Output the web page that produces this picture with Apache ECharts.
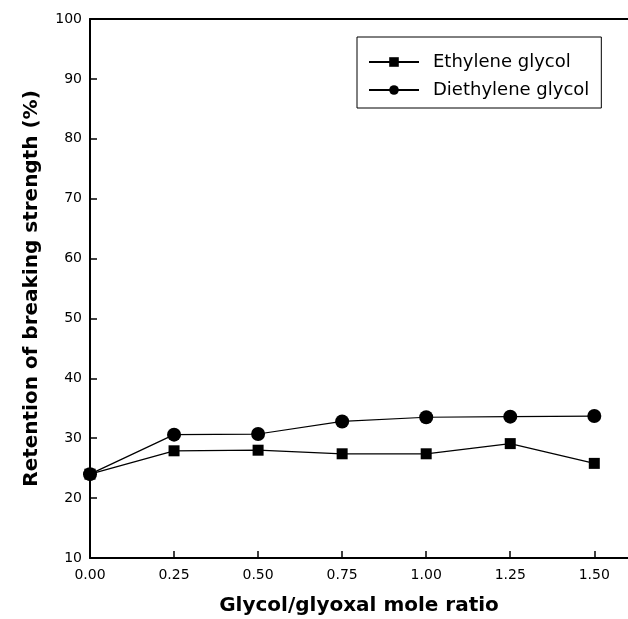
<!DOCTYPE html>
<html>
<head>
<meta charset="utf-8">
<script src="https://cdn.jsdelivr.net/npm/echarts@6/dist/echarts.min.js"></script>
<style>html,body{margin:0;padding:0;background:#fff;overflow:hidden;width:628px;height:619px;}#c{width:628px;height:619px;}</style>
</head>
<body>
<div id="c"></div>
<script>
var ratios = [0, 0.25, 0.5, 0.75, 1.0, 1.25, 1.5];
var ethyleneGlycol = [24.0, 27.9, 28.0, 27.4, 27.4, 29.1, 25.8];
var diethyleneGlycol = [24.0, 30.6, 30.7, 32.8, 33.5, 33.6, 33.7];
var seriesNames = ['Ethylene glycol', 'Diethylene glycol'];
var xTitle = 'Glycol/glyoxal mole ratio';
var yTitle = 'Retention of breaking strength (%)';

function pairs(xs, ys) { return xs.map(function (x, i) { return [x, ys[i]]; }); }

var chart = echarts.init(document.getElementById('c'), null, {renderer: 'canvas'});
var font = 'DejaVu Sans, Liberation Sans, sans-serif';
var quarterFmt = function (v) { return Math.abs(v / 0.25 - Math.round(v / 0.25)) < 1e-6 ? v.toFixed(2) : ''; };
chart.setOption({
  animation: false,
  backgroundColor: '#fff',
  grid: {left: 90, top: 19, right: -10, bottom: 61, outerBoundsMode: 'none', containLabel: false},
  legend: {
    orient: 'vertical', left: 357, top: 37,
    data: seriesNames,
    itemWidth: 50, itemHeight: 12, itemGap: 0,
    borderColor: '#000', borderWidth: 1, borderRadius: 0, padding: [11, 12, 4, 11],
    textStyle: {fontFamily: font, fontSize: 18, color: '#000', lineHeight: 28, padding: [0, 0, 0, 9]}
  },
  xAxis: [{
    type: 'value', min: 0, max: 1.63, interval: 0.25,
    name: xTitle, nameLocation: 'middle', nameGap: 38,
    nameTextStyle: {fontFamily: font, fontSize: 20, fontWeight: 'bold', color: '#000', padding: [0, 10, 0, 0]},
    axisLine: {lineStyle: {color: '#000', width: 2}},
    axisTick: {inside: true, length: 7, lineStyle: {color: '#000', width: 1.5}},
    axisLabel: {fontFamily: font, fontSize: 14, color: '#000', margin: 10, formatter: quarterFmt},
    splitLine: {show: false}
  }, {
    type: 'value', min: 0, max: 1.63, position: 'top',
    axisLine: {show: true, lineStyle: {color: '#000', width: 2}},
    axisTick: {show: false}, axisLabel: {show: false}, splitLine: {show: false}
  }],
  yAxis: {
    type: 'value', min: 10, max: 100, interval: 10,
    name: yTitle, nameLocation: 'middle', nameGap: 48,
    nameTextStyle: {fontFamily: font, fontSize: 20, fontWeight: 'bold', color: '#000'},
    axisLine: {lineStyle: {color: '#000', width: 2}},
    axisTick: {inside: true, length: 7, lineStyle: {color: '#000', width: 1.5}},
    axisLabel: {fontFamily: font, fontSize: 14, color: '#000', margin: 8},
    splitLine: {show: false}
  },
  series: [
    {name: seriesNames[0], type: 'line', data: pairs(ratios, ethyleneGlycol), symbol: 'rect', symbolSize: 11,
      itemStyle: {color: '#000'}, lineStyle: {color: '#000', width: 1.2}, z: 3},
    {name: seriesNames[1], type: 'line', data: pairs(ratios, diethyleneGlycol), symbol: 'circle', symbolSize: 14,
      itemStyle: {color: '#000'}, lineStyle: {color: '#000', width: 1.2}, z: 2}
  ]
});
</script>
</body>
</html>
